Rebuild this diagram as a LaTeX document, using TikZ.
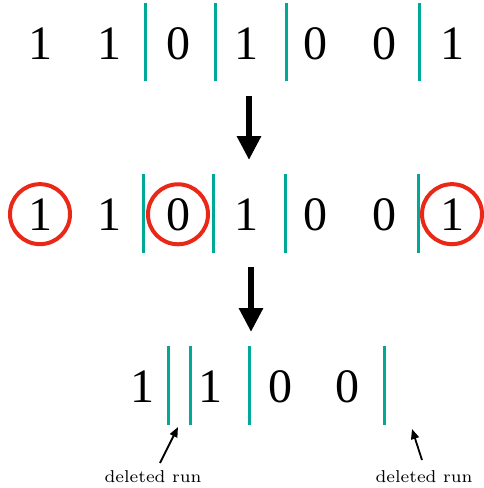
\documentclass[tikz,border=0pt]{standalone}
\usepackage{fontspec}
\newfontfamily\digitfont{Liberation Serif}
\usetikzlibrary{arrows.meta}
\definecolor{runbar}{RGB}{0,168,152}
\definecolor{ringred}{RGB}{234,40,24}

\begin{document}
\begin{tikzpicture}[x=1pt,y=-1pt,
  digit/.style={anchor=base,inner sep=0pt,font=\digitfont\fontsize{48}{48}\selectfont},
  bar/.style={runbar,line width=3pt},
  ring/.style={ringred,line width=4pt},
  bigarrow/.style={line width=6pt,-{Triangle[width=23pt,length=24pt]}},
  note/.style={scale=2.45,transform shape,inner sep=0pt,anchor=base,font=\scriptsize},
  pointer/.style={line width=1.8pt,-{Triangle[length=10pt,width=8pt]}}]
  \useasboundingbox (0,0) rectangle (483,488);

  % first row
  \foreach \x/\d [count=\i] in {40/1,109/1,178/0,246/1,315/0,384/0,452/1}
    {\node[digit] (a\i) at (\x,59) {\d};}
  \foreach \x in {145,215,286,419}
    {\draw[bar] (\x,3) -- (\x,81);}

  \coordinate (s1) at (249,96);
  \coordinate (e1) at (249,160);
  \draw[bigarrow] (s1) -- (e1);

  % second row, marked runs
  \foreach \x/\d [count=\i] in {40/1,109/1,178/0,246/1,315/0,384/0,452/1}
    {\node[digit] (b\i) at (\x,230) {\d};}
  \foreach \x in {143,213,285,418}
    {\draw[bar] (\x,174) -- (\x,253);}
  \foreach \n in {b1,b3,b7}
    {\draw[ring] (\n) circle[radius=30];}

  \coordinate (s2) at (251,267);
  \coordinate (e2) at (251,332);
  \draw[bigarrow] (s2) -- (e2);

  % third row
  \foreach \x/\d [count=\i] in {142/1,210/1,280/0,347/0}
    {\node[digit] (c\i) at (\x,402) {\d};}
  \foreach \x in {168,190,249,384}
    {\draw[bar] (\x,346) -- (\x,425);}

  % labels
  \node[note] (n1) at (153,482) {deleted run};
  \node[note] (n2) at (424,482) {deleted run};
  \coordinate (q1) at (160,463);
  \coordinate (p1) at (178,427);
  \coordinate (q2) at (422,460);
  \coordinate (p2) at (412,429);
  \draw[pointer] (q1) -- (p1);
  \draw[pointer] (q2) -- (p2);
\end{tikzpicture}
\end{document}
